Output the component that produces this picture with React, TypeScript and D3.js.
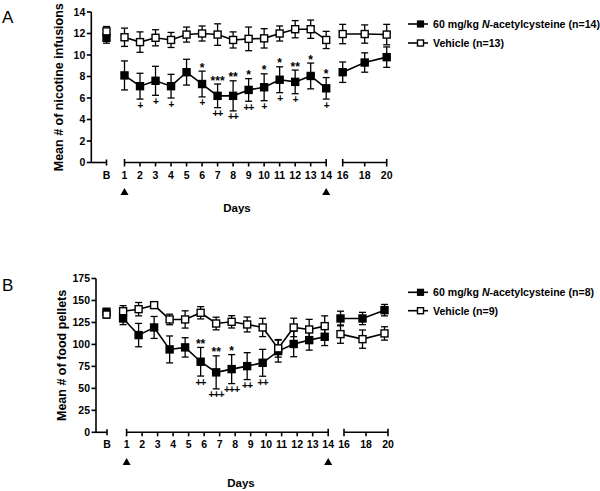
import React from "react";
import * as d3 from "d3";

// ---------- data ----------
const days = [1, 2, 3, 4, 5, 6, 7, 8, 9, 10, 11, 12, 13, 14, 16, 18, 20];
const dayTickLabels = ["1", "2", "3", "4", "5", "6", "7", "8", "9", "10", "11", "12", "13", "14", "16", "18", "20"];
const injectionDays = [1, 14];

// Panel A: nicotine infusions
const nicTicks = [0, 2, 4, 6, 8, 10, 12, 14];
const nicNAC = [8.1, 7.1, 7.6, 7.1, 8.4, 7.3, 6.2, 6.2, 6.75, 7.0, 7.7, 7.5, 8.05, 6.9, 8.4, 9.3, 9.8];
const nicNACErr = [1.35, 1.2, 1.35, 1.1, 1.2, 1.2, 1.1, 1.4, 1.05, 1.25, 1.2, 1.1, 1.2, 1.0, 0.95, 0.9, 0.95];
const nicNACBase = [11.6, 0.5];
const nicVeh = [11.65, 11.2, 11.6, 11.4, 11.9, 12.0, 11.9, 11.4, 11.5, 11.55, 12.0, 12.4, 12.4, 11.4, 11.95, 11.95, 11.9];
const nicVehErr = [0.85, 0.95, 0.75, 0.7, 0.7, 0.7, 1.0, 0.75, 1.1, 0.9, 0.7, 0.8, 0.85, 0.8, 0.9, 0.85, 0.95];
const nicVehBase = [12.2, 0.45];
const nicStars = ["", "", "", "", "", "*", "***", "**", "*", "*", "*", "**", "*", "*", "", "", ""];
const nicPlus = ["", "+", "+", "+", "", "+", "++", "++", "++", "+", "+", "+", "", "+", "", "", ""];
const nicLegend = ["60 mg/kg ", "N", "-acetylcysteine (n=14)", "Vehicle (n=13)"];

// Panel B: food pellets
const foodTicks = [0, 25, 50, 75, 100, 125, 150, 175];
const foodNAC = [129.5, 110.6, 119.3, 94.3, 96.6, 80.3, 68.2, 71.9, 75.3, 79.1, 92.4, 100.5, 104.9, 108.7, 129.5, 129.5, 139];
const foodNACErr = [7, 13.3, 12.5, 15.3, 11, 16.3, 18.8, 16.5, 15.3, 15.3, 12.5, 14.5, 11.4, 10, 8.3, 7, 6.5];
const foodNACBase = [137, 4];
const foodVeh = [137.8, 140.1, 144.7, 128.4, 128.4, 136, 123.8, 125.7, 122.7, 119.3, 95.5, 119.3, 117, 120.8, 111.7, 106, 112.5];
const foodVehErr = [6.3, 7.6, 2.5, 6, 9.8, 7, 7.2, 7, 8.5, 10.4, 10, 10.5, 11.5, 11.7, 10.4, 10.4, 7.6];
const foodVehBase = [134, 4];
const foodStars = ["", "", "", "", "", "**", "**", "*", "", "", "", "", "", "", "", "", ""];
const foodPlus = ["", "", "", "", "", "++", "+++", "+++", "++", "++", "", "", "", "", "", "", ""];
const foodLegend = ["60 mg/kg ", "N", "-acetylcysteine (n=8)", "Vehicle (n=9)"];

const FONT = "'Liberation Sans', Arial, Helvetica, sans-serif";

type PanelProps = {
  letter: string;
  title: string;
  ticks: number[];
  yMax: number;
  nac: number[];
  nacErr: number[];
  nacBase: number[];
  veh: number[];
  vehErr: number[];
  vehBase: number[];
  stars: string[];
  plus: string[];
  legend: string[];
  cfg: {
    axisX: number;
    yTopPx: number;
    y0Px: number;
    bX: number;
    d1X: number;
    d14X: number;
    d16X: number;
    d20X: number;
    dx: number;
    labelY: number;
    triY: number;
    daysX: number;
    daysY: number;
    legY1: number;
    legY2: number;
    letterY: number;
    titleX: number;
  };
};

function Panel(p: PanelProps) {
  const c = p.cfg;
  const y = d3.scaleLinear().domain([0, p.yMax]).range([c.y0Px, c.yTopPx]);
  const xa = d3.scaleLinear().domain([1, 14]).range([c.d1X, c.d14X]);
  const xb = d3.scaleLinear().domain([16, 20]).range([c.d16X, c.d20X]);
  const xTick = (d: number) => (d <= 14 ? xa(d) : xb(d));
  const xData = (d: number) => xTick(d) + c.dx;
  const bData = c.bX + (c.dx < 0 ? -0.5 : 0);

  const seg1 = days.map((d, i) => i).filter((i) => days[i] <= 14);
  const seg2 = days.map((d, i) => i).filter((i) => days[i] > 14);

  const mk = (vals: number[]) =>
    d3
      .line<number>()
      .x((i) => xData(days[i]))
      .y((i) => y(vals[i]));

  const sw = 1.6;
  const cap = 3.5;
  const half = 3.5;

  const errBar = (x: number, v: number, e: number, key: string) => (
    <g key={key} stroke="#000" strokeWidth={1.3}>
      <line x1={x} x2={x} y1={y(v - e)} y2={y(v + e)} />
      <line x1={x - cap} x2={x + cap} y1={y(v - e)} y2={y(v - e)} />
      <line x1={x - cap} x2={x + cap} y1={y(v + e)} y2={y(v + e)} />
    </g>
  );

  const series = (vals: number[], errs: number[], base: number[], filled: boolean, id: string) => (
    <g>
      {[seg1, seg2].map((s, k) => (
        <path key={id + "l" + k} d={mk(vals)(s) || ""} fill="none" stroke="#000" strokeWidth={sw} />
      ))}
      {errBar(bData, base[0], base[1], id + "be")}
      {days.map((d, i) => errBar(xData(d), vals[i], errs[i], id + "e" + i))}
      <rect
        x={bData - half}
        y={y(base[0]) - half}
        width={half * 2}
        height={half * 2}
        fill={filled ? "#000" : "#fff"}
        stroke="#000"
        strokeWidth={1.4}
      />
      {days.map((d, i) => (
        <rect
          key={id + "m" + i}
          x={xData(d) - half}
          y={y(vals[i]) - half}
          width={half * 2}
          height={half * 2}
          fill={filled ? "#000" : "#fff"}
          stroke="#000"
          strokeWidth={1.4}
        />
      ))}
    </g>
  );

  const base = c.y0Px;
  const axisStroke = 1.6;
  const titleCY = (c.yTopPx + c.y0Px) / 2;

  return (
    <g fontFamily={FONT}>
      <text x={2} y={c.letterY + 6} fontSize={17} fill="#000">
        {p.letter}
      </text>
      <text
        transform={`translate(${c.titleX},${titleCY}) rotate(-90)`}
        textAnchor="middle"
        fontSize={12.5}
        fontWeight="bold"
        fill="#000"
      >
        {p.title}
      </text>
      {/* y axis */}
      <g stroke="#000" strokeWidth={axisStroke}>
        <line x1={c.axisX} x2={c.axisX} y1={c.yTopPx} y2={base} />
        {p.ticks.map((t) => (
          <line key={"yt" + t} x1={c.axisX - 4.5} x2={c.axisX} y1={y(t)} y2={y(t)} />
        ))}
      </g>
      {p.ticks.map((t) => (
        <text
          key={"ytl" + t}
          x={c.axisX - 6}
          y={y(t)}
          dy="0.35em"
          textAnchor="end"
          fontSize={10.5}
          fontWeight="bold"
          fill="#000"
        >
          {t}
        </text>
      ))}
      {/* x axis */}
      <g stroke="#000" strokeWidth={axisStroke}>
        <line x1={c.axisX} x2={c.bX} y1={base} y2={base} />
        <line x1={c.bX} x2={c.bX} y1={base - 3} y2={base + 3} />
        <line x1={c.d1X} x2={c.d14X} y1={base} y2={base} />
        <line x1={c.d16X} x2={c.d20X} y1={base} y2={base} />
        {days.map((d) => {
          const end = d === 1 || d === 14 || d === 16 || d === 20;
          return (
            <line key={"xt" + d} x1={xTick(d)} x2={xTick(d)} y1={end ? base - 3.5 : base} y2={base + 4} />
          );
        })}
      </g>
      <text x={c.bX} y={c.labelY} textAnchor="middle" fontSize={10.5} fontWeight="bold" fill="#000">
        B
      </text>
      {days.map((d, i) => (
        <text
          key={"xl" + d}
          x={xTick(d)}
          y={c.labelY}
          textAnchor="middle"
          fontSize={10.5}
          fontWeight="bold"
          fill="#000"
        >
          {dayTickLabels[i]}
        </text>
      ))}
      {injectionDays.map((d) => {
        const x = xTick(d);
        return (
          <path
            key={"tri" + d}
            d={`M${x},${c.triY} L${x + 4},${c.triY + 7} L${x - 4},${c.triY + 7} Z`}
            fill="#000"
          />
        );
      })}
      <text x={c.daysX} y={c.daysY} textAnchor="middle" fontSize={11.5} fontWeight="bold" fill="#000">
        Days
      </text>
      {series(p.nac, p.nacErr, p.nacBase, true, "n")}
      {series(p.veh, p.vehErr, p.vehBase, false, "v")}
      {/* significance */}
      {days.map((d, i) =>
        p.stars[i] ? (
          <text
            key={"s" + i}
            x={xData(d)}
            y={y(p.nac[i] + p.nacErr[i]) + 0.5}
            textAnchor="middle"
            fontSize={12}
            fontWeight="bold"
            fill="#000"
          >
            {p.stars[i]}
          </text>
        ) : null
      )}
      {days.map((d, i) =>
        p.plus[i] ? (
          <text
            key={"p" + i}
            x={xData(d)}
            y={y(p.nac[i] - p.nacErr[i]) + 9.5}
            textAnchor="middle"
            fontSize={10}
            fontWeight="bold"
            fill="#000"
            letterSpacing={-0.8}
          >
            {p.plus[i]}
          </text>
        ) : null
      )}
      {/* legend */}
      <g stroke="#000" strokeWidth={sw}>
        <line x1={408} x2={428} y1={c.legY1} y2={c.legY1} />
        <line x1={408} x2={428} y1={c.legY2} y2={c.legY2} />
      </g>
      <rect x={417.5} y={c.legY1 - 3} width={6} height={6} fill="#000" stroke="#000" strokeWidth={1.2} />
      <rect x={417.5} y={c.legY2 - 3} width={6} height={6} fill="#fff" stroke="#000" strokeWidth={1.4} />
      <text x={433} y={c.legY1} dy="0.36em" fontSize={10.6} fontWeight="bold" fill="#000">
        {p.legend[0]}
        <tspan fontStyle="italic">{p.legend[1]}</tspan>
        {p.legend[2]}
      </text>
      <text x={433} y={c.legY2} dy="0.36em" fontSize={10.6} fontWeight="bold" fill="#000">
        {p.legend[3]}
      </text>
    </g>
  );
}

export default function App() {
  return (
    <svg
      width={600}
      height={491}
      viewBox="0 0 600 491"
      style={{ position: "absolute", left: 0, top: 0, background: "#fff" }}
    >
      <rect x={0} y={0} width={600} height={491} fill="#fff" />
      <Panel
        letter="A"
        title="Mean # of nicotine infusions"
        ticks={nicTicks}
        yMax={14}
        nac={nicNAC}
        nacErr={nicNACErr}
        nacBase={nicNACBase}
        veh={nicVeh}
        vehErr={nicVehErr}
        vehBase={nicVehBase}
        stars={nicStars}
        plus={nicPlus}
        legend={nicLegend}
        cfg={{
          axisX: 91.3,
          yTopPx: 12,
          y0Px: 162.5,
          bX: 106.5,
          d1X: 124.5,
          d14X: 326.2,
          d16X: 342.7,
          d20X: 386.7,
          dx: 0,
          labelY: 179,
          triY: 188,
          daysX: 237,
          daysY: 212,
          legY1: 24,
          legY2: 43,
          letterY: 17,
          titleX: 63,
        }}
      />
      <Panel
        letter="B"
        title="Mean # of food pellets"
        ticks={foodTicks}
        yMax={175}
        nac={foodNAC}
        nacErr={foodNACErr}
        nacBase={foodNACBase}
        veh={foodVeh}
        vehErr={foodVehErr}
        vehBase={foodVehBase}
        stars={foodStars}
        plus={foodPlus}
        legend={foodLegend}
        cfg={{
          axisX: 96,
          yTopPx: 278.5,
          y0Px: 432.3,
          bX: 107,
          d1X: 126.6,
          d14X: 328.2,
          d16X: 344,
          d20X: 388,
          dx: -3.5,
          labelY: 448,
          triY: 458,
          daysX: 241,
          daysY: 487,
          legY1: 292.3,
          legY2: 310.7,
          letterY: 285,
          titleX: 66,
        }}
      />
    </svg>
  );
}
